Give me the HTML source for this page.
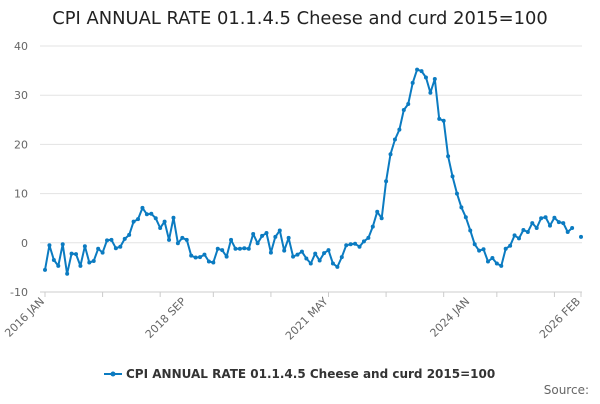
<!DOCTYPE html>
<html><head><meta charset="utf-8"><style>
body{margin:0;background:#fff;font-family:"DejaVu Sans","Liberation Sans",sans-serif}
</style></head><body>
<svg width="600" height="400" xmlns="http://www.w3.org/2000/svg" font-family="DejaVu Sans, Liberation Sans, sans-serif">
<text x="300" y="24" text-anchor="middle" font-size="17.9" fill="#222">CPI ANNUAL RATE 01.1.4.5 Cheese and curd 2015=100</text>
<g id="grid"></g><g id="xaxis"></g><g id="series"></g>
<g>
<line x1="104" y1="374" x2="122" y2="374" stroke="#0b7bc1" stroke-width="2"/>
<circle cx="113" cy="374" r="2.5" fill="#0b7bc1"/>
<text x="126" y="378" font-size="12" font-weight="bold" fill="#333">CPI ANNUAL RATE 01.1.4.5 Cheese and curd 2015=100</text>
</g>
<text x="589" y="394" text-anchor="end" font-size="12" fill="#666">Source:</text>
</svg>
<script>
const yTicks=[40,30,20,10,0,-10];
const xTickLabels=["2016 JAN","2018 SEP","2021 MAY","2024 JAN","2026 FEB"];
const xTickIdx=[0,32,64,96,121];
const values=[-5.5,-0.5,-3.5,-4.7,-0.3,-6.3,-2.2,-2.3,-4.7,-0.7,-4.0,-3.7,-1.2,-2,0.5,0.6,-1.1,-0.8,0.8,1.6,
4.3,4.8,7.1,5.8,5.9,5.0,3.0,4.3,0.6,5.1,-0.1,1.0,0.6,-2.6,-3.0,-2.9,-2.4,-3.8,-4.0,-1.2,
-1.5,-2.8,0.6,-1.2,-1.2,-1.1,-1.2,1.8,-0.1,1.4,2.0,-2.0,1.2,2.5,-1.6,1.0,-2.8,-2.4,-1.8,-3.2,
-4.2,-2.2,-3.6,-2.1,-1.5,-4.2,-4.9,-2.9,-0.5,-0.3,-0.2,-0.8,0.3,1.0,3.3,6.3,5.0,12.5,18,21,
23,27,28.2,32.5,35.2,34.9,33.6,30.5,33.3,25.2,24.8,17.6,13.5,10,7.2,5.2,2.5,-0.3,-1.6,-1.3,
-3.8,-3.1,-4.2,-4.7,-1.2,-0.6,1.5,0.9,2.6,2.2,4.0,3.0,5.0,5.2,3.5,5.1,4.2,4.0,2.2,3.0,null,1.2];
const NS="http://www.w3.org/2000/svg";
const x0=45,x1=581,yTop=46,yBot=292,vMin=-10,vMax=40;
const xs=i=>x0+(x1-x0)*i/121;
const ys=v=>yBot-(v-vMin)/(vMax-vMin)*(yBot-yTop);
function mk(t,a,p){const e=document.createElementNS(NS,t);for(const k in a)e.setAttribute(k,a[k]);p.appendChild(e);return e;}
const grid=document.getElementById('grid');
yTicks.forEach(v=>{
 const l=mk('line',{x1:40,x2:582,y1:ys(v),y2:ys(v),stroke:v===-10?'#ccc':'#e3e3e3','stroke-width':1},grid);
 
 
 const t=mk('text',{x:28,y:ys(v)+4,'text-anchor':'end','font-size':11,fill:'#666'},grid);
 t.textContent=v;
 
 
});
const xa=document.getElementById('xaxis');
[0,13,26,38,51,64,77,90,102,115,121].forEach(i=>{
 const tk=mk('line',{x1:xs(i),x2:xs(i),y1:292,y2:297,stroke:'#ccc'},xa);
 
 
});
xTickLabels.forEach((lab,k)=>{
 const x=xs(xTickIdx[k]);
 const t=mk('text',{x:x,y:302,'text-anchor':'end','font-size':11,fill:'#666',transform:`rotate(-45 ${x} 302)`},xa);
 t.textContent=lab;
 
 
});
const sg=document.getElementById('series');
let d='',pen=false;
values.forEach((v,i)=>{ if(v===null){pen=false;return;} d+=(pen?'L':'M')+xs(i).toFixed(1)+' '+ys(v).toFixed(1); pen=true; });
const path=mk('path',{d:d,fill:'none',stroke:'#0b7bc1','stroke-width':2,'stroke-linejoin':'round'},sg);


values.forEach((v,i)=>{ if(v===null)return;
 const c=mk('circle',{cx:xs(i),cy:ys(v),r:2,fill:'#0b7bc1'},sg);
 
 
});
</script>
</body></html>
